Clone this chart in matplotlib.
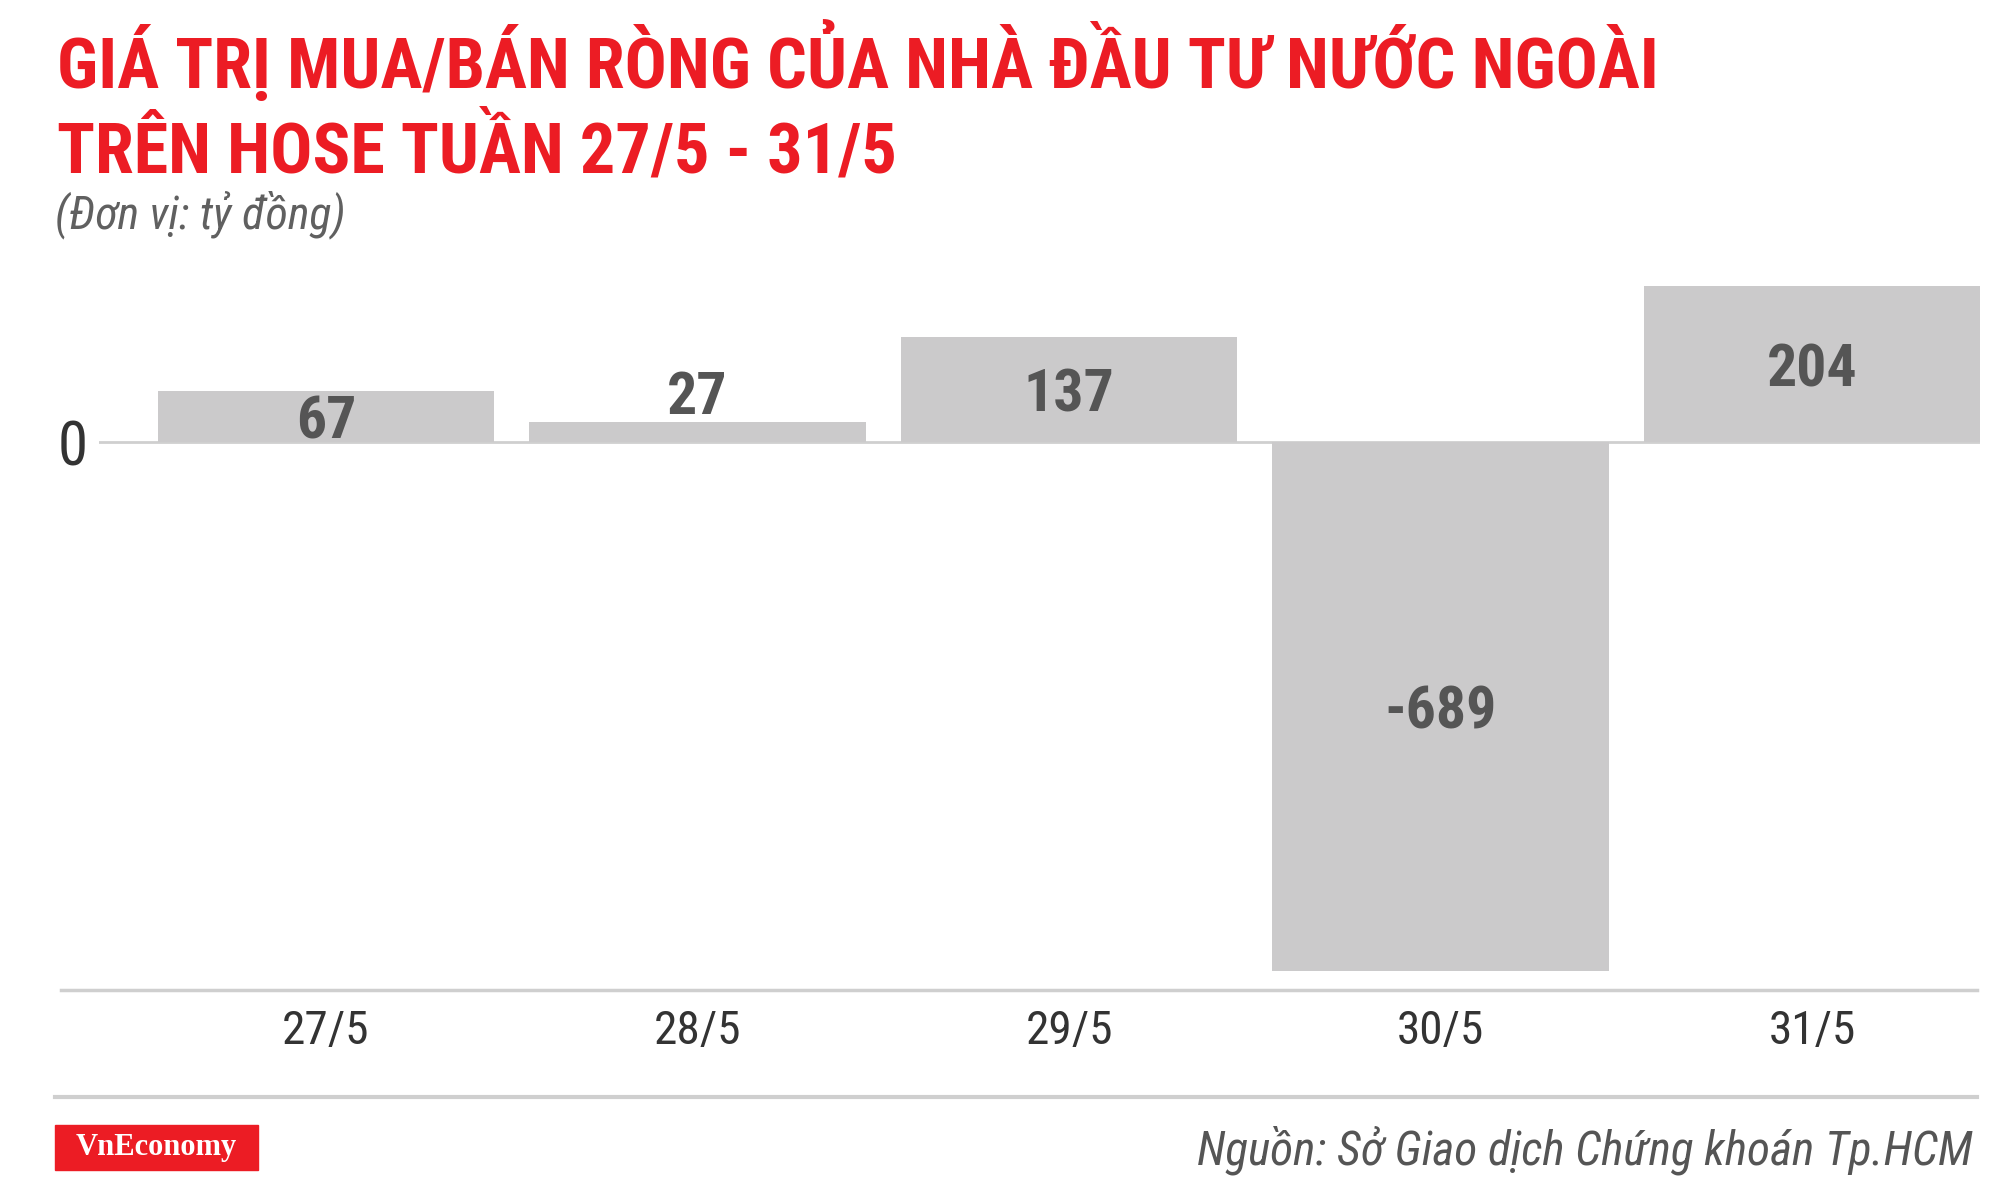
import numpy as np
import matplotlib
matplotlib.use("Agg")
import matplotlib.pyplot as plt
from matplotlib import font_manager
from matplotlib.lines import Line2D
from matplotlib.patches import Rectangle

# data
days = ["27/5", "28/5", "29/5", "30/5", "31/5"]
net_values = [67, 27, 137, -689, 204]

title_lines = ["GIÁ TRỊ MUA/BÁN RÒNG CỦA NHÀ ĐẦU TƯ NƯỚC NGOÀI",
               "TRÊN HOSE TUẦN 27/5 - 31/5"]
unit_text = "(Đơn vị: tỷ đồng)"
source_text = "Nguồn: Sở Giao dịch Chứng khoán Tp.HCM"

RED = "#ec1c24"
BAR = "#cbcacb"
LINE = "#cfcfcf"


def pick_font():
    # condensed face if there is one, plain Roboto otherwise
    for name in ["Roboto Condensed", "Roboto"]:
        try:
            font_manager.findfont(name, fallback_to_default=False)
            return name
        except Exception:
            pass
    return "DejaVu Sans"


def main():
    font = pick_font()
    plt.rcParams["font.family"] = [font, "DejaVu Sans"]

    W, H = 2000, 1187
    fig = plt.figure(figsize=(W / 100, H / 100), dpi=100)

    # axes placed in pixel terms: x 99..1980, y 270..990 (from top)
    ax = fig.add_axes([99 / W, 1 - 990 / H, (1980 - 99) / W, (990 - 270) / H])
    x = np.arange(len(days))
    ax.bar(x, net_values, width=0.905, color=BAR, zorder=2)
    ax.axhline(0, color=LINE, lw=2, zorder=1)
    ax.set_xlim(-0.611, 4.452)
    ax.set_ylim(-714, 224.7)

    for s in ax.spines.values():
        s.set_visible(False)
    ax.set_xticks(x)
    ax.set_xticklabels(days, fontsize=34, color="#333333")
    ax.tick_params(axis="x", length=0, pad=14)
    ax.set_yticks([0])
    ax.set_yticklabels(["0"], fontsize=44, color="#333333")
    ax.tick_params(axis="y", length=0, pad=8)

    # value labels: inside the bar, above it when the bar is too short
    for xi, v in zip(x, net_values):
        if abs(v) < 55:
            ax.text(xi, v - 6, str(v), ha="center", va="bottom",
                    fontsize=43, fontweight="bold", color="#555555", zorder=3)
        else:
            ax.text(xi, v / 2 - 8, str(v), ha="center", va="center",
                    fontsize=43, fontweight="bold", color="#555555", zorder=3)

    # lines under the plot
    fig.add_artist(Line2D([61 / W, 1977 / W], [1 - 990 / H] * 2, color=LINE, lw=2.5))
    fig.add_artist(Line2D([55 / W, 1977 / W], [1 - 1097 / H] * 2, color=LINE, lw=3))

    # title and unit
    fig.text(57 / W, 1 - 88 / H, title_lines[0], fontsize=50.5, fontweight="bold",
             color=RED, va="baseline")
    fig.text(57 / W, 1 - 173 / H, title_lines[1], fontsize=50.5, fontweight="bold",
             color=RED, va="baseline")
    fig.text(55 / W, 1 - 228 / H, unit_text, fontsize=33, style="italic",
             color="#606060", va="baseline")

    # footer
    fig.add_artist(Rectangle((55 / W, 1 - 1170 / H), 203 / W, 45 / H,
                             transform=fig.transFigure, color=RED))
    fig.text(156 / W, 1 - 1148 / H, "VnEconomy", family="Liberation Serif",
             fontsize=22, fontweight="bold", color="white", ha="center", va="center")
    fig.text(1973 / W, 1 - 1150 / H, source_text, fontsize=34, style="italic",
             color="#555555", ha="right", va="center")

    fig.savefig("out.png", dpi=100, facecolor="white")


if __name__ == "__main__":
    main()
